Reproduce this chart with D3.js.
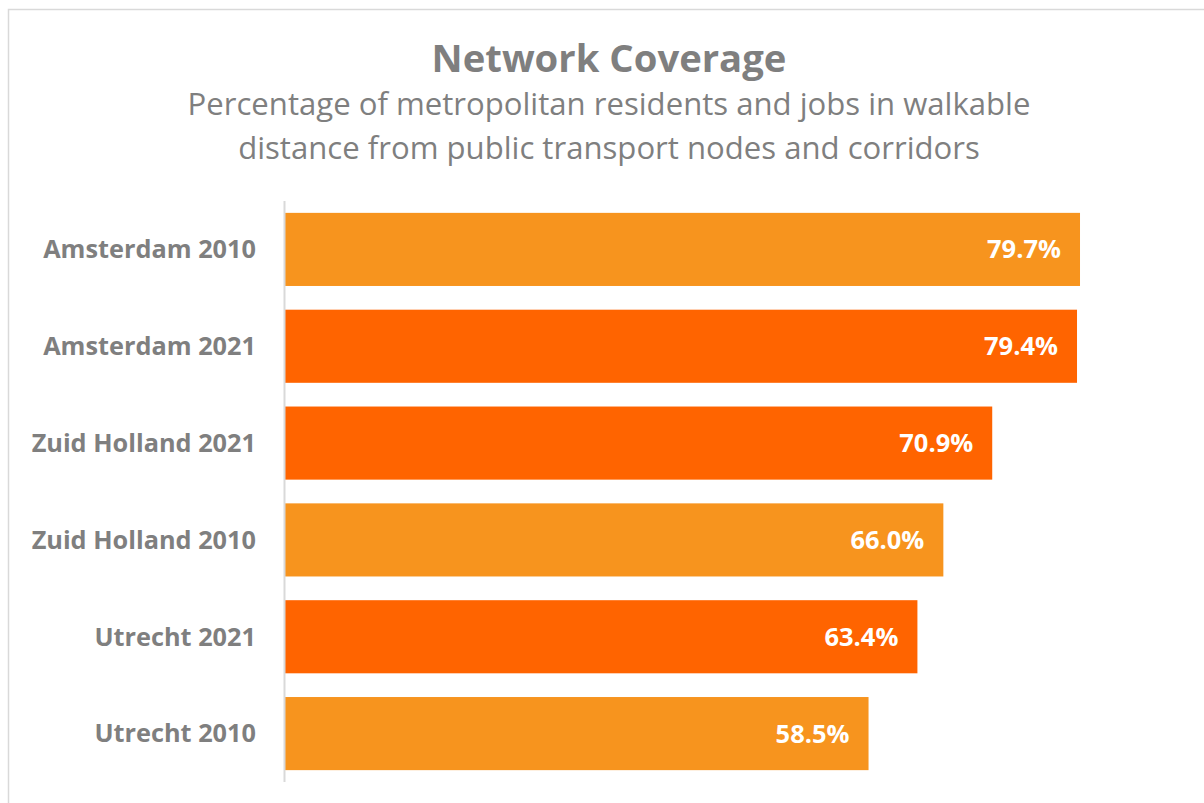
<!DOCTYPE html>
<html>
<head>
<meta charset="utf-8">
<script src="https://cdn.jsdelivr.net/npm/d3@7"></script>
<style>
  html, body { margin: 0; padding: 0; background: #ffffff; }
  svg { display: block; }
  text { font-family: "Open Sans", "Noto Sans", sans-serif; }
</style>
</head>
<body>
<svg id="chart" width="1204" height="803"></svg>
<script>
// Regions and survey years, top to bottom
const categories = [
  "Amsterdam 2010",
  "Amsterdam 2021",
  "Zuid Holland 2021",
  "Zuid Holland 2010",
  "Utrecht 2021",
  "Utrecht 2010"
];
// Share of residents and jobs within walking distance (%)
const coverage = [79.7, 79.4, 70.9, 66.0, 63.4, 58.5];
// Survey year of each bar (drives the bar colour)
const years = ["2010", "2021", "2021", "2010", "2021", "2010"];
const yearColors = { "2010": "#F7941E", "2021": "#FF6400" };

const titleText = "Network Coverage";
const subtitleLines = [
  "Percentage of metropolitan residents and jobs in walkable",
  "distance from public transport nodes and corridors"
];

const svg = d3.select("#chart");
const grey = "#7F7F7F";

// Outer chart frame
svg.append("rect")
  .attr("x", 8.5).attr("y", 9.5)
  .attr("width", 1210).attr("height", 810)
  .attr("fill", "none")
  .attr("stroke", "#D9D9D9")
  .attr("stroke-width", 1.5);

// Scale a font size so a string fills a given width
function fitSize(sel, targetWidth) {
  const base = parseFloat(sel.attr("font-size"));
  const w = sel.node().getComputedTextLength();
  return base * targetWidth / w;
}

// Title
const title = svg.append("text")
  .attr("x", 609).attr("y", 72)
  .attr("text-anchor", "middle")
  .attr("font-size", 36)
  .attr("font-weight", 700)
  .attr("fill", grey)
  .text(titleText);
title.attr("font-size", fitSize(title, 355));

// Subtitle (two lines)
const sub = svg.append("g");
const subBaselines = [115, 159];
const subTexts = sub.selectAll("text")
  .data(subtitleLines)
  .join("text")
  .attr("x", 609)
  .attr("y", (d, i) => subBaselines[i])
  .attr("text-anchor", "middle")
  .attr("font-size", 28)
  .attr("fill", grey)
  .text(d => d);
const subSize = fitSize(d3.select(subTexts.nodes()[0]), 843);
subTexts.attr("font-size", subSize);

// Scales
const x = d3.scaleLinear().domain([0, 80]).range([285, 1083]);
const y = d3.scaleBand()
  .domain(categories)
  .range([201, 782])
  .paddingInner(0.245)
  .paddingOuter(0.1225);

const data = categories.map((c, i) => ({ cat: c, value: coverage[i], year: years[i] }));

// Bars
svg.append("g")
  .selectAll("rect")
  .data(data)
  .join("rect")
  .attr("x", x(0))
  .attr("y", d => y(d.cat))
  .attr("width", d => x(d.value) - x(0))
  .attr("height", y.bandwidth())
  .attr("fill", d => yearColors[d.year]);

// Category axis (line only, labels drawn separately)
const axis = svg.append("g")
  .attr("transform", `translate(${x(0) - 0.5},0)`)
  .call(d3.axisLeft(y).tickSize(0).tickFormat(""));
axis.select(".domain")
  .attr("d", "M0,201V782")
  .attr("stroke", "#D9D9D9")
  .attr("stroke-width", 2);

// Category labels
const catLabels = svg.append("g")
  .selectAll("text")
  .data(data)
  .join("text")
  .attr("x", 256)
  .attr("y", d => y(d.cat) + y.bandwidth() / 2)
  .attr("dy", "0.35em")
  .attr("text-anchor", "end")
  .attr("font-size", 22)
  .attr("font-weight", 700)
  .attr("fill", grey)
  .text(d => d.cat);
catLabels.attr("font-size", fitSize(d3.select(catLabels.nodes()[0]), 213));

// Value labels inside bar ends
const fmt = d3.format(".1f");
const valLabels = svg.append("g")
  .selectAll("text")
  .data(data)
  .join("text")
  .attr("x", d => x(d.value) - 19)
  .attr("y", d => y(d.cat) + y.bandwidth() / 2)
  .attr("dy", "0.35em")
  .attr("text-anchor", "end")
  .attr("font-size", 22)
  .attr("font-weight", 700)
  .attr("fill", "#FFFFFF")
  .text(d => fmt(d.value) + "%");
valLabels.attr("font-size", fitSize(d3.select(valLabels.nodes()[0]), 74));
</script>
</body>
</html>
